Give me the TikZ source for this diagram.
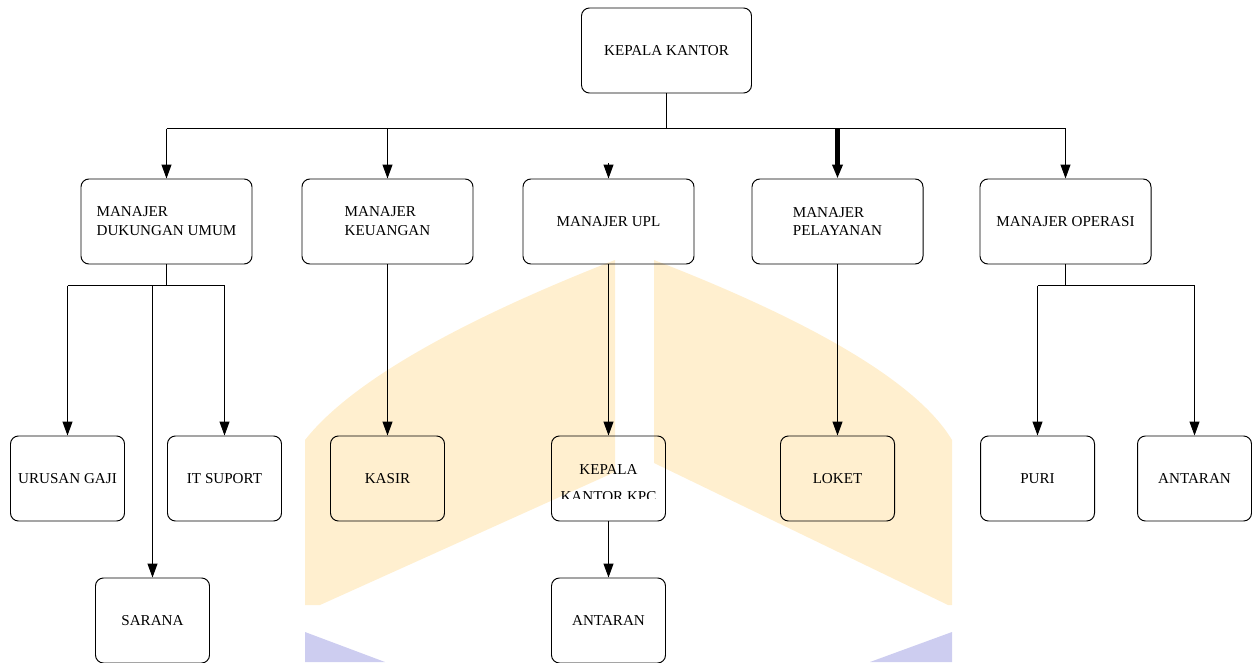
\documentclass[tikz,border=0pt]{standalone}
\usepackage{fontspec}
\setmainfont{Liberation Serif}
\usetikzlibrary{arrows.meta}
\definecolor{wmorange}{RGB}{255,239,207}
\definecolor{wmblue}{RGB}{205,205,240}
\tikzset{
    boxtext/.style = {font=\fontsize{8.6}{10.8}\selectfont, inner sep=0pt},
    topbox/.style = {boxtext, draw, rounded corners=4.5pt, minimum width=3.4cm, minimum height=1.7cm, align=left},
    midbox/.style = {topbox, minimum width=3.42cm},
    smallbox/.style = {topbox, minimum width=2.28cm},
    arr/.style = {-{Triangle[length=2.8mm, width=2mm]}}
}

\begin{document}
\begin{tikzpicture}[x=0.2mm, y=-0.2mm, line width=0.55pt]
    \useasboundingbox (0,0) rectangle (1252,662);

    % Draw watermark.
    \fill[wmorange] (615,260) .. controls (500,305) and (360,370) .. (305,440)
        -- (305,605) -- (320,605) -- (615,472) -- cycle;
    \fill[wmorange] (654,260) .. controls (770,305) and (910,370) .. (952,440)
        -- (952,605) -- (948,605) -- (654,463) -- cycle;
    \fill[wmblue] (305,632) -- (385,662) -- (305,662) -- cycle;
    \fill[wmblue] (952,632) -- (952,662) -- (870,662) -- cycle;

    % Draw boxes.
    \node[topbox] (kepala) at (666.5,50.5) {KEPALA KANTOR};
    \foreach \name/\x/\txt in {mdu/166.5/{MANAJER\\DUKUNGAN UMUM}, mku/387.5/{MANAJER\\KEUANGAN},
            mup/608.5/{MANAJER UPL}, mpl/837.5/{MANAJER\\PELAYANAN}, mop/1065.5/{MANAJER OPERASI}}
        \node[midbox] (\name) at (\x,221.5) {\txt};
    \foreach \name/\x/\txt in {gaji/67.5/URUSAN GAJI, it/224.5/IT SUPORT, kasir/387.5/KASIR,
            loket/837.5/LOKET, puri/1037.5/PURI, antaran/1194.5/ANTARAN}
        \node[smallbox] (\name) at (\x,478.5) {\txt};
    \node[smallbox] (kpc) at (608.5,478.5) {};
    \node[boxtext, anchor=base] (kpctop) at (608.5,474) {KEPALA};
    \begin{scope}
        \clip (552,480) rectangle (666,498);
        \node[boxtext, anchor=base] (kpcbot) at (608.5,501) {KANTOR KPC};
    \end{scope}
    \node[smallbox] (sarana) at (152.5,620.5) {SARANA};
    \node[smallbox] (antarankpc) at (608.5,620.5) {ANTARAN};

    % Draw connectors from the head.
    \coordinate (bus) at (666.5,128.5);
    \draw (kepala.south) -- (bus);
    \draw (mdu.north |- bus) -- (mop.north |- bus);
    \foreach \n in {mdu,mku,mop}
        \draw[arr] (\n.north |- bus) -- (\n.north);
    \draw[arr, line width=2.3pt] (mpl.north |- bus) -- (mpl.north);
    \coordinate (upltip) at (608.5,163);
    \draw[arr] (upltip) -- (mup.north);

    % Draw connectors of the managers.
    \coordinate (dujoin) at (166.5,285.5);
    \draw (mdu.south) -- (dujoin);
    \draw (gaji.north |- dujoin) -- (it.north |- dujoin);
    \foreach \n in {gaji,it,sarana}
        \draw[arr] (\n.north |- dujoin) -- (\n.north);
    \coordinate (opjoin) at (1065.5,285.5);
    \draw (mop.south) -- (opjoin);
    \draw (puri.north |- opjoin) -- (antaran.north |- opjoin);
    \foreach \n in {puri,antaran}
        \draw[arr] (\n.north |- opjoin) -- (\n.north);
    \draw[arr] (mku.south) -- (kasir.north);
    \draw[arr] (mup.south) -- (kpc.north);
    \draw[arr] (mpl.south) -- (loket.north);
    \draw[arr] (kpc.south) -- (antarankpc.north);
\end{tikzpicture}
\end{document}
